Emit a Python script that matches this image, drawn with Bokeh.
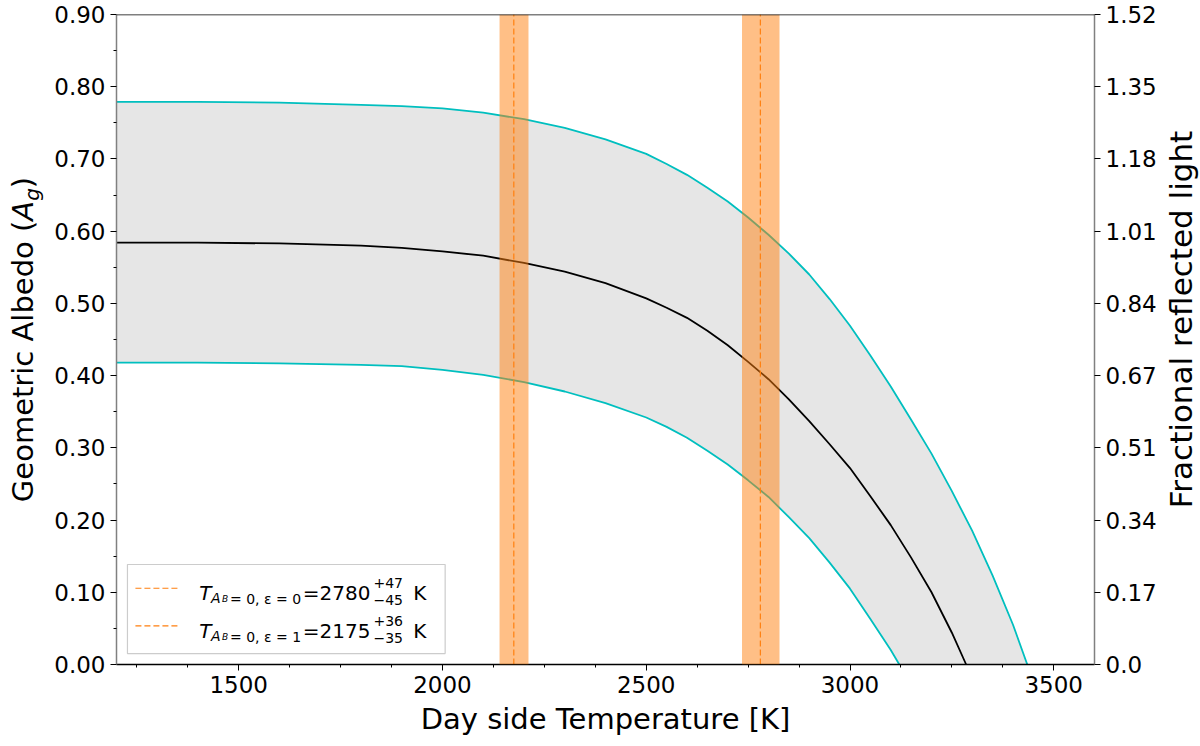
from math import pi
from bokeh.plotting import figure
from bokeh.layouts import row
from bokeh.core.properties import value
from bokeh.models import (Range1d, LinearAxis, FixedTicker, BoxAnnotation, Span,
                          ColumnDataSource, NumeralTickFormatter)
from bokeh.embed import file_html
from bokeh.resources import INLINE

# ---------------- data ----------------
temp_upper = [1200, 1400, 1600, 1800, 1900, 2000, 2100, 2200, 2300, 2400, 2500, 2550,
              2600, 2650, 2700, 2750, 2800, 2850, 2900, 2950, 3000, 3050, 3100, 3150,
              3200, 3250, 3300, 3350, 3400, 3435]
albedo_upper = [0.779, 0.779, 0.778, 0.775, 0.773, 0.770, 0.764, 0.755, 0.743, 0.727, 0.707, 0.693,
                0.678, 0.660, 0.641, 0.619, 0.595, 0.569, 0.540, 0.506, 0.469, 0.428, 0.385, 0.339,
                0.292, 0.240, 0.185, 0.123, 0.055, 0.0]

temp_best = [1200, 1400, 1600, 1800, 1900, 2000, 2100, 2200, 2300, 2400, 2500, 2550,
             2600, 2650, 2700, 2750, 2800, 2850, 2900, 2950, 3000, 3050, 3100, 3150,
             3200, 3250, 3285]
albedo_best = [0.584, 0.584, 0.583, 0.580, 0.577, 0.572, 0.566, 0.556, 0.544, 0.528, 0.507, 0.494,
               0.480, 0.462, 0.442, 0.419, 0.395, 0.367, 0.337, 0.305, 0.272, 0.233, 0.193, 0.148,
               0.100, 0.044, 0.0]

temp_lower = [1200, 1400, 1600, 1800, 1900, 2000, 2100, 2200, 2300, 2400, 2500, 2550,
              2600, 2650, 2700, 2750, 2800, 2850, 2900, 2950, 3000, 3050, 3100, 3121]
albedo_lower = [0.418, 0.418, 0.417, 0.415, 0.413, 0.408, 0.401, 0.391, 0.378, 0.362, 0.342, 0.329,
                0.314, 0.296, 0.277, 0.255, 0.232, 0.204, 0.175, 0.141, 0.105, 0.063, 0.020, 0.0]

# day-side temperatures with asymmetric errors
t_eps0, t_eps0_plus, t_eps0_minus = 2780, 47, 45
t_eps1, t_eps1_plus, t_eps1_minus = 2175, 36, 35

x_ticks = [1500, 2000, 2500, 3000, 3500]
x_minor_ticks = [1250, 1375, 1625, 1750, 1875, 2125, 2250, 2375, 2625, 2750, 2875,
                 3125, 3250, 3375]
y_ticks = [0.0, 0.1, 0.2, 0.3, 0.4, 0.5, 0.6, 0.7, 0.8, 0.9]
y_minor_ticks = [0.05, 0.15, 0.25, 0.35, 0.45, 0.55, 0.65, 0.75, 0.85]
right_tick_labels = ["0.0", "0.17", "0.34", "0.51", "0.67", "0.84", "1.01", "1.18", "1.35", "1.52"]

XMIN, XMAX, YMIN, YMAX = 1200, 3600, 0.0, 0.9

FONT = "DejaVu Sans"
ORANGE = "#ff7f0e"
CYAN = "#00bfbf"

# layout geometry (pixels)
FRAME_W, FRAME_H = 978, 650
TOP, BOTTOM = 14, 80
LEFT_LAB_W, RIGHT_LAB_W = 51, 40
P_LEFT, P_RIGHT = 65, 62

# ---------------- main figure ----------------
p = figure(frame_width=FRAME_W, frame_height=FRAME_H,
           x_range=Range1d(XMIN, XMAX), y_range=Range1d(YMIN, YMAX),
           output_backend="svg", toolbar_location=None,
           min_border_left=P_LEFT, min_border_top=TOP, min_border_bottom=BOTTOM,
           min_border_right=P_RIGHT,
           background_fill_color="white", border_fill_color="white")
p.outline_line_color = None
p.xgrid.visible = False
p.ygrid.visible = False

# shaded uncertainty region
p.patch(temp_upper + temp_lower[::-1], albedo_upper + albedo_lower[::-1],
        fill_color="gray", fill_alpha=0.2, line_color=None)

# curves
p.line(temp_upper, albedo_upper, line_color=CYAN, line_width=1.8)
p.line(temp_lower, albedo_lower, line_color=CYAN, line_width=1.8)
p.line(temp_best, albedo_best, line_color="black", line_width=1.8)

# vertical dashed lines for the two temperatures
vl = ColumnDataSource(dict(x=[t_eps0, t_eps1], y0=[YMIN, YMIN], y1=[YMAX, YMAX]))
p.segment(x0="x", y0="y0", x1="x", y1="y1", source=vl,
          line_color=ORANGE, line_width=1.2, line_dash="6 3")

# error bands
for t, tp, tm in [(t_eps0, t_eps0_plus, t_eps0_minus), (t_eps1, t_eps1_plus, t_eps1_minus)]:
    p.add_layout(BoxAnnotation(left=t - tm, right=t + tp, fill_color=ORANGE,
                               fill_alpha=0.5, line_color=None))

# top spine
p.add_layout(Span(location=YMAX, dimension="width", line_color="black", line_width=1.5))

# ---------------- axes ----------------
xa = p.xaxis[0]
xa.ticker = FixedTicker(ticks=x_ticks, minor_ticks=x_minor_ticks)
xa.axis_label = "Day side Temperature [K]"

ya = p.yaxis[0]
ya.ticker = FixedTicker(ticks=y_ticks, minor_ticks=y_minor_ticks)
ya.formatter = NumeralTickFormatter(format="0.00")

ra = LinearAxis(ticker=FixedTicker(ticks=y_ticks, minor_ticks=[]),
                major_label_overrides={v: s for v, s in zip(y_ticks, right_tick_labels)})
p.add_layout(ra, "right")

for ax in (xa, ya, ra):
    ax.major_label_text_font = FONT
    ax.major_label_text_font_size = "23px"
    ax.major_label_text_color = "black"
    ax.axis_label_text_font = FONT
    ax.axis_label_text_font_size = "29px"
    ax.axis_label_text_font_style = "normal"
    ax.axis_label_text_color = "black"
    ax.major_tick_out = 6
    ax.major_tick_in = 0
    ax.minor_tick_out = 3
    ax.minor_tick_in = 0
    ax.major_tick_line_color = "black"
    ax.minor_tick_line_color = "black"
    ax.major_label_standoff = 5
    ax.axis_label_standoff = 6
    ax.axis_line_width = 1.5

xa.axis_line_color = "black"
ya.axis_line_color = "#808080"
ra.axis_line_color = "#808080"


# ---------------- legend (drawn by hand, placed in data space) ----------------
def dx(px):   # reference-pixel x inside the frame -> temperature
    return XMIN + (px - 116) * (XMAX - XMIN) / 982.0


def dy(py):   # reference-pixel y inside the frame -> albedo
    return YMIN + (669 - py) * (YMAX - YMIN) / 656.5


p.quad(left=[dx(127)], right=[dx(446)], top=[dy(568)], bottom=[dy(658)],
       fill_color="white", fill_alpha=0.8, line_color="#cccccc", line_width=1.2)

row_lines = [592, 630]
entries = [(t_eps0, t_eps0_plus, t_eps0_minus, "0"), (t_eps1, t_eps1_plus, t_eps1_minus, "1")]
p.segment(x0=[dx(135)] * 2, x1=[dx(179)] * 2, y0=[dy(r) for r in row_lines],
          y1=[dy(r) for r in row_lines], line_color=ORANGE, line_width=1.2, line_dash="6 3")


def txt(fig, x, y, s, size, style="normal", align="left", baseline="alphabetic", angle=0.0):
    fig.text(x=[x], y=[y], text=[s], angle=angle, text_font=value(FONT),
             text_font_size=value(size), text_font_style=style, text_color="black",
             text_align=align, text_baseline=baseline)


for (t, tp, tm, eps), rl in zip(entries, row_lines):
    yb = rl + 5
    txt(p, dx(199), dy(yb), "T", "20px", "italic")
    txt(p, dx(211), dy(yb + 5), "A", "14px", "italic")
    txt(p, dx(222), dy(yb + 6), "B", "9px", "italic")
    txt(p, dx(230), dy(yb + 6), "= 0, ε = " + eps, "14px")
    txt(p, dx(303), dy(yb), "=" + str(t), "20px")
    txt(p, dx(374), dy(yb - 10), "+" + str(tp), "14px")
    txt(p, dx(374), dy(yb + 7), "\u2212" + str(tm), "14px")
    txt(p, dx(414), dy(yb), "K", "20px")


# ---------------- side figures holding the rotated axis titles ----------------
def side_fig(w):
    f = figure(frame_width=w, frame_height=FRAME_H,
               x_range=Range1d(0, w), y_range=Range1d(0, FRAME_H),
               x_axis_type=None, y_axis_type=None,
               output_backend="svg", toolbar_location=None,
               min_border_left=0, min_border_right=0,
               min_border_top=TOP, min_border_bottom=BOTTOM,
               background_fill_color="white", border_fill_color="white")
    f.outline_line_color = None
    f.xgrid.visible = False
    f.ygrid.visible = False
    return f


left_fig = side_fig(LEFT_LAB_W)
main_w, A_w, g_w, paren_w = 281.5, 19.8, 12.7, 11.3
start = FRAME_H / 2 - (main_w + A_w + g_w + paren_w) / 2
xc = 22
txt(left_fig, xc, start + main_w / 2, "Geometric Albedo (", "29px",
    align="center", baseline="middle", angle=pi / 2)
txt(left_fig, xc, start + main_w + A_w / 2, "A", "29px", "italic",
    align="center", baseline="middle", angle=pi / 2)
txt(left_fig, xc + 9, start + main_w + A_w + g_w / 2, "g", "20px", "italic",
    align="center", baseline="middle", angle=pi / 2)
txt(left_fig, xc, start + main_w + A_w + g_w + paren_w / 2, ")", "29px",
    align="center", baseline="middle", angle=pi / 2)

right_fig = side_fig(RIGHT_LAB_W)
txt(right_fig, 21, FRAME_H / 2 + 20, "Fractional reflected light", "31px",
    align="center", baseline="middle", angle=pi / 2)

layout = row(left_fig, p, right_fig, spacing=0)
open("out.html", "w").write(file_html(layout, INLINE))
